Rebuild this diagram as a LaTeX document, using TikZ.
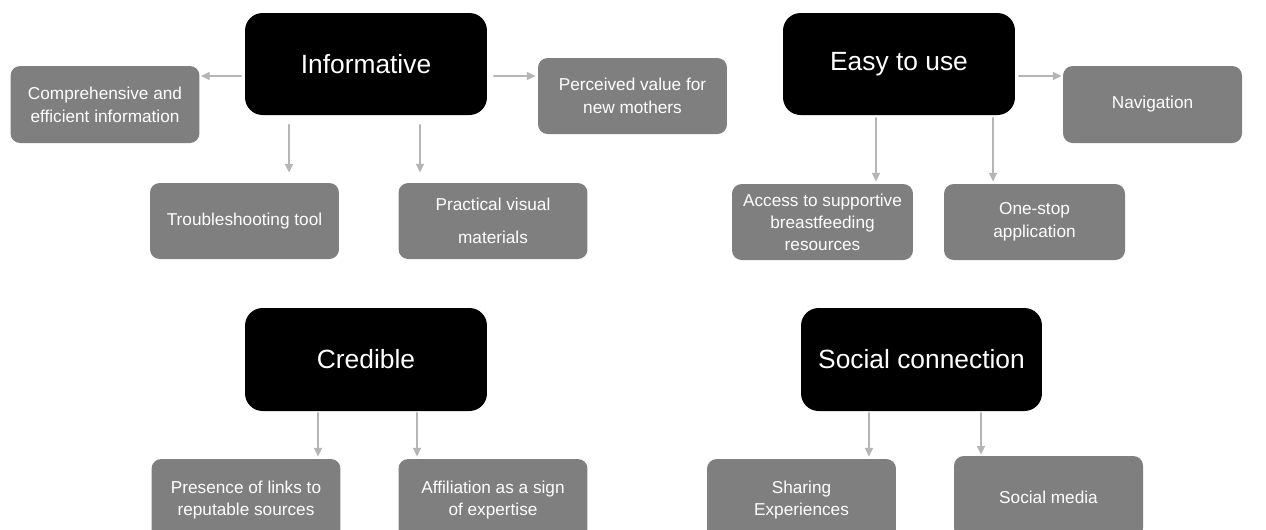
\documentclass[tikz,border=0pt]{standalone}
\usepackage{fontspec}
\setmainfont{Liberation Sans}
\usetikzlibrary{arrows.meta}

\definecolor{boxgray}{HTML}{7F7F7F}
\definecolor{arrgray}{HTML}{B5B5B5}

\begin{document}
\begin{tikzpicture}[
    x=0.02cm, y=-0.02cm,
    head/.style={fill=black, text=white, rounded corners=10pt, minimum width=4.84cm, minimum height=2.04cm, align=center, inner sep=0pt, font=\fontsize{15}{18}\selectfont},
    item/.style={fill=boxgray, text=white, rounded corners=5.5pt, minimum width=3.78cm, minimum height=1.52cm, align=center, inner sep=0pt, font=\fontsize{9.8}{13}\selectfont},
    arr/.style={-{Triangle[length=5pt,width=4.5pt]}, draw=arrgray, line width=1.1pt}
]
\useasboundingbox (0,0) rectangle (1266,529);
\clip (0,0) rectangle (1266,529);

% Informative
\node[head] (info) at (366,64) {Informative};
\node[item, minimum height=1.54cm] (comp) at (105,104.5) {Comprehensive and\\efficient information};
\node[item] (perc) at (632.5,96) {Perceived value for\\new mothers};
\node[item] (trbl) at (244.5,221) {Troubleshooting tool};
\node[item] (prac) at (493,221) {Practical visual\\[6pt]materials};

% Easy to use
\node[head, minimum width=4.64cm] (easy) at (899,64) {Easy to use};
\node[item, minimum width=3.58cm, minimum height=1.54cm] (nav) at (1152.5,104.5) {Navigation};
\node[item, minimum width=3.62cm, font=\fontsize{9.8}{12.5}\selectfont] (acc) at (822.5,222) {Access to supportive\\breastfeeding\\resources};
\node[item, minimum width=3.62cm] (one) at (1034.5,222) {One-stop\\application};

% Credible
\node[head, minimum height=2.06cm] (cred) at (366,359.5) {Credible};
\node[item, minimum height=1.64cm] (pres) at (246,500) {Presence of links to\\reputable sources};
\node[item, minimum height=1.64cm] (aff) at (493,500) {Affiliation as a sign\\of expertise};

% Social connection
\node[head, minimum width=4.82cm, minimum height=2.06cm] (soc) at (921.5,359.5) {Social connection};
\node[item, minimum height=1.64cm] (shar) at (801.5,500) {Sharing\\Experiences};
\node[item, minimum height=1.64cm] (smed) at (1048.5,497) {Social media};

\draw[arr, shorten <=0.06cm, shorten >=0.02cm] ([yshift=-0.24cm]info.west) -- ([yshift=0.57cm]comp.east);
\draw[arr, shorten <=0.12cm, shorten >=0.04cm] ([yshift=-0.24cm]info.east) -- ([yshift=0.4cm]perc.west);
\draw[arr, shorten <=0.18cm, shorten >=0.2cm] ([xshift=-1.54cm]info.south) -- ([xshift=0.89cm]trbl.north);
\draw[arr, shorten <=0.18cm, shorten >=0.2cm] ([xshift=1.08cm]info.south) -- ([xshift=-1.46cm]prac.north);

\draw[arr, shorten <=0.06cm, shorten >=0.02cm] ([yshift=-0.24cm]easy.east) -- ([yshift=0.57cm]nav.west);
\draw[arr, shorten <=0.04cm, shorten >=0.04cm] ([xshift=-0.46cm]easy.south) -- ([xshift=1.07cm]acc.north);
\draw[arr, shorten <=0.04cm, shorten >=0.04cm] ([xshift=1.88cm]easy.south) -- ([xshift=-0.83cm]one.north);

\draw[arr, shorten <=0.02cm, shorten >=0.04cm] ([xshift=-0.96cm]cred.south) -- ([xshift=1.44cm]pres.north);
\draw[arr, shorten <=0.02cm, shorten >=0.04cm] ([xshift=1.02cm]cred.south) -- ([xshift=-1.52cm]aff.north);

\draw[arr, shorten <=0.02cm, shorten >=0.04cm] ([xshift=-1.05cm]soc.south) -- ([xshift=1.35cm]shar.north);
\draw[arr, shorten <=0.02cm, shorten >=0.02cm] ([xshift=1.19cm]soc.south) -- ([xshift=-1.35cm]smed.north);
\end{tikzpicture}
\end{document}
